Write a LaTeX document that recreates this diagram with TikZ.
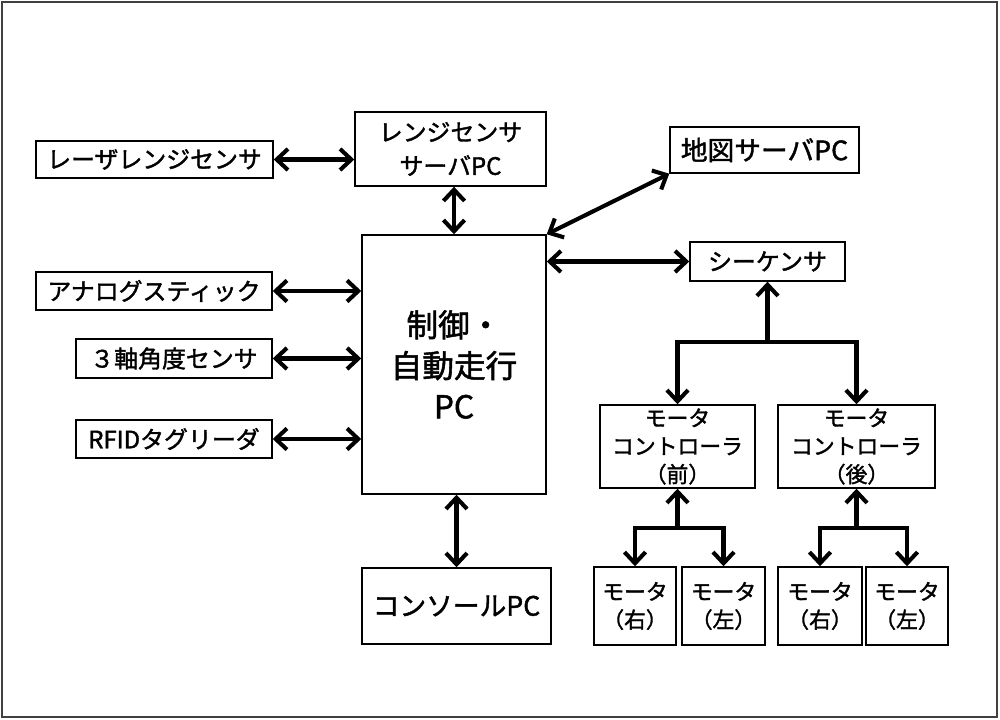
\documentclass[tikz,border=0pt]{standalone}
\usepackage{fontspec}
\setmainfont{Noto Sans CJK JP}[BoldFont=Noto Sans CJK JP, BoldFeatures={FakeBold=1.6}]
\usetikzlibrary{arrows.meta}

\tikzset{
  box/.style={draw, line width=1pt, inner sep=0pt, align=center},
  big/.style={font=\fontsize{17}{24}\selectfont\bfseries},
  huge/.style={font=\fontsize{22.5}{29}\selectfont\bfseries},
  small/.style={font=\fontsize{15.5}{20}\selectfont\bfseries},
  link/.style={line width=2.9pt, {Straight Barb[length=8pt,width=15pt]}-{Straight Barb[length=8pt,width=15pt]}},
  up/.style={line width=2.9pt, -{Straight Barb[length=8pt,width=15pt]}}
}

\begin{document}
\begin{tikzpicture}[x=0.025cm,y=-0.025cm]

%FRAME
\useasboundingbox (0,0) rectangle (1000,720);
\draw[line width=1pt, black!75] (2,2) rectangle (997,717);

%BOXES
% main pc
\node[box,huge,minimum width=4.6cm,minimum height=6.475cm] (main) at (454,364.5) {制御・\\自動走行\\PC};
% top
\node[box,big,minimum width=4.775cm,minimum height=1.85cm] (rss) at (450.5,149) {レンジセンサ\\サーバPC};
\node[box,big,minimum width=5.925cm,minimum height=0.925cm] (lrs) at (154.5,159.5) {レーザレンジセンサ};
\node[box,big,font=\fontsize{19}{24}\selectfont\bfseries,minimum width=4.725cm,minimum height=1.15cm] (map) at (764.5,150) {地図サーバPC};
% left
\node[box,big,minimum width=5.9cm,minimum height=0.95cm] (stick) at (154,291) {アナログスティック};
\node[box,big,minimum width=4.9cm,minimum height=0.975cm] (gyro) at (174,358.5) {３軸角度センサ};
\node[box,big,minimum width=4.9cm,minimum height=0.95cm] (rfid) at (174,439) {RFIDタグリーダ};
% bottom
\node[box,big,font=\fontsize{19}{24}\selectfont\bfseries,minimum width=4.725cm,minimum height=1.9cm] (con) at (456.5,606) {コンソールPC};
% right
\node[box,big,minimum width=3.875cm,minimum height=0.975cm] (seq) at (767.5,261.5) {シーケンサ};
\node[box,small,minimum width=3.875cm,minimum height=2.075cm] (mcf) at (677.5,446.5) {モータ\\コントローラ\\（前）};
\node[box,small,minimum width=3.925cm,minimum height=2.075cm] (mcr) at (856.5,446.5) {モータ\\コントローラ\\（後）};
\node[box,small,minimum width=2.05cm,minimum height=1.95cm] (mfr) at (635,606) {モータ\\（右）};
\node[box,small,minimum width=2.075cm,minimum height=1.95cm] (mfl) at (723.5,606) {モータ\\（左）};
\node[box,small,minimum width=2.1cm,minimum height=1.95cm] (mrr) at (820,606) {モータ\\（右）};
\node[box,small,minimum width=2.05cm,minimum height=1.95cm] (mrl) at (907,606) {モータ\\（左）};

%ARROWS
\draw[link] (lrs.east) -- (lrs.east -| rss.west);
\draw[link] (main.north |- rss.south) -- (main.north);
\draw[link] (main.north east) -- (map.south west);
\draw[link] (main.east |- seq.west) -- (seq.west);
\draw[link] (stick.east) -- (stick.east -| main.west);
\draw[link] (gyro.east) -- (gyro.east -| main.west);
\draw[link] (rfid.east) -- (rfid.east -| main.west);
\draw[link] (main.south -| con.north) -- (con.north);

%TREES
% sequencer
\coordinate (sj) at (767.5,342);
\draw[up] (sj) -- (seq.south);
\draw[link] (mcf.north) |- (sj) -| (mcr.north);
% front
\coordinate (fj) at (677.5,528);
\draw[up] (fj) -- (mcf.south);
\draw[link] (mfr.north) |- (fj) -| (mfl.north);
% rear
\coordinate (rj) at (856.5,528);
\draw[up] (rj) -- (mcr.south);
\draw[link] (mrr.north) |- (rj) -| (mrl.north);

\end{tikzpicture}
\end{document}
